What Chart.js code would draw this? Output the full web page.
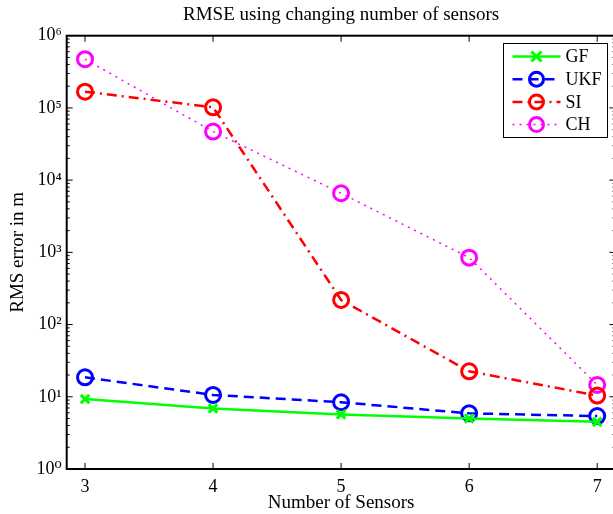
<!DOCTYPE html>
<html lang="en">
<head>
  <meta charset="UTF-8" />
  <title>RMSE using changing number of sensors</title>
  <script src="https://cdn.jsdelivr.net/npm/chart.js"></script>
  <style>
    html, body {
      margin: 0;
      padding: 0;
      background: #fff;
      overflow: hidden;
    }
    canvas {
      display: block;
    }
  </style>
</head>
<body>
  <canvas id="rmse" width="626" height="514"></canvas>

  <script>
    // x values (number of sensors) and the RMS error of each method
    const sensors = [3, 4, 5, 6, 7];
    const gf  = [9.3, 6.9, 5.7, 5.0, 4.5];
    const ukf = [18.6, 10.6, 8.4, 5.9, 5.4];
    const si  = [168000, 102000, 219, 22.5, 10.4];
    const ch  = [473000, 47000, 6580, 845, 14.6];
    const yTicks = [1, 10, 100, 1000, 10000, 100000, 1000000];

    const sup = ['\u2070', '\u00b9', '\u00b2', '\u00b3', '\u2074', '\u2075', '\u2076'];
    const serif = "'Liberation Serif', 'DejaVu Serif', serif";

    const pts = arr => arr.map((v, i) => ({x: sensors[i], y: v}));

    // matlab style box with inward ticks + legend
    const matlabAxes = {
      id: 'matlabAxes',
      afterDraw(chart) {
        const {ctx, chartArea: a, scales: {x, y}} = chart;
        ctx.save();
        ctx.strokeStyle = '#000';
        ctx.lineWidth = 1;
        ctx.beginPath();
        yTicks.forEach(v => {
          const py = y.getPixelForValue(v);
          ctx.moveTo(a.left, py); ctx.lineTo(a.left + 6, py);
          ctx.moveTo(a.right, py); ctx.lineTo(a.right - 6, py);
          if (v < 1000000) {
            for (let k = 2; k < 10; k++) {
              const my = y.getPixelForValue(v * k);
              ctx.moveTo(a.left, my); ctx.lineTo(a.left + 3, my);
              ctx.moveTo(a.right, my); ctx.lineTo(a.right - 3, my);
            }
          }
        });
        sensors.forEach(v => {
          const px = x.getPixelForValue(v);
          ctx.moveTo(px, a.bottom); ctx.lineTo(px, a.bottom - 6);
          ctx.moveTo(px, a.top); ctx.lineTo(px, a.top + 6);
        });
        ctx.stroke();

        ctx.lineWidth = 2;
        ctx.strokeRect(a.left, a.top, a.right - a.left, a.bottom - a.top);

        // legend
        const bx = 503.5, by = 43.5, bw = 104, bh = 94;
        ctx.fillStyle = '#fff';
        ctx.fillRect(bx, by, bw, bh);
        ctx.lineWidth = 1;
        ctx.strokeRect(bx, by, bw, bh);
        ctx.font = '18px ' + serif;
        ctx.textBaseline = 'middle';
        chart.data.datasets.forEach((ds, i) => {
          const ry = by + 13 + i * 22.7;
          ctx.strokeStyle = ds.borderColor;
          ctx.lineWidth = ds.borderWidth;
          ctx.setLineDash(ds.borderDash || []);
          ctx.beginPath();
          ctx.moveTo(bx + 9, ry); ctx.lineTo(bx + 57, ry);
          ctx.stroke();
          ctx.setLineDash([]);
          ctx.lineWidth = ds.pointBorderWidth;
          ctx.beginPath();
          if (ds.pointStyle === 'crossRot') {
            const r = 5;
            ctx.moveTo(bx + 33 - r, ry - r); ctx.lineTo(bx + 33 + r, ry + r);
            ctx.moveTo(bx + 33 - r, ry + r); ctx.lineTo(bx + 33 + r, ry - r);
          } else {
            ctx.arc(bx + 33, ry, 7, 0, Math.PI * 2);
          }
          ctx.stroke();
          ctx.fillStyle = '#000';
          ctx.fillText(ds.label, bx + 62, ry + 1);
        });
        ctx.restore();
      }
    };

    const common = {
      fill: false,
      tension: 0,
      backgroundColor: 'rgba(0,0,0,0)',
      pointBackgroundColor: 'rgba(0,0,0,0)',
      pointBorderWidth: 3,
      pointRadius: 7.5,
      clip: false
    };

    new Chart(document.getElementById('rmse'), {
      type: 'line',
      data: {
        datasets: [
          {...common, label: 'GF', data: pts(gf), borderColor: '#00ff00', pointBorderColor: '#00ff00',
            borderWidth: 2.5, pointStyle: 'crossRot', pointRadius: 6},
          {...common, label: 'UKF', data: pts(ukf), borderColor: '#0000ff', pointBorderColor: '#0000ff',
            borderWidth: 2.5, borderDash: [10, 6], pointStyle: 'circle'},
          {...common, label: 'SI', data: pts(si), borderColor: '#ff0000', pointBorderColor: '#ff0000',
            borderWidth: 2.5, borderDash: [10, 5, 2, 5], pointStyle: 'circle'},
          {...common, label: 'CH', data: pts(ch), borderColor: '#ff00ff', pointBorderColor: '#ff00ff',
            borderWidth: 1.5, borderDash: [2, 5], pointStyle: 'circle'}
        ]
      },
      options: {
        responsive: false,
        animation: false,
        devicePixelRatio: 1,
        layout: { padding: { left: 0, right: 2.7, top: 0, bottom: 0 } },
        plugins: {
          legend: { display: false },
          tooltip: { enabled: false },
          title: {
            display: true,
            fullSize: false,
            text: 'RMSE using changing number of sensors',
            color: '#000',
            font: { family: serif, size: 19, weight: 'normal' },
            padding: { top: 3.6, bottom: 9.3 }
          }
        },
        scales: {
          x: {
            type: 'linear',
            min: 2.857,
            max: 7.143,
            afterFit: s => { s.height = 45; s.paddingLeft = 0; s.paddingRight = 0; },
            afterBuildTicks: s => { s.ticks = sensors.map(v => ({value: v})); },
            grid: { display: false, drawTicks: false },
            border: { display: false },
            ticks: {
              color: '#000',
              padding: 7,
              font: { family: serif, size: 18 },
              callback: v => String(v)
            },
            title: {
              display: true,
              text: 'Number of Sensors',
              color: '#000',
              font: { family: serif, size: 19 },
              padding: { top: 0, bottom: 0 }
            }
          },
          y: {
            type: 'logarithmic',
            min: 1,
            max: 1000000,
            afterFit: s => { s.width = 66.7; s.paddingTop = 0; s.paddingBottom = 0; },
            afterBuildTicks: s => { s.ticks = yTicks.map(v => ({value: v})); },
            grid: { display: false, drawTicks: false },
            border: { display: false },
            ticks: {
              color: '#000',
              padding: 5,
              font: { family: serif, size: 18 },
              callback: v => '10' + sup[Math.round(Math.log10(v))]
            },
            title: {
              display: true,
              text: 'RMS error in m',
              color: '#000',
              font: { family: serif, size: 19 },
              padding: { top: 6.6, bottom: 0 }
            }
          }
        }
      },
      plugins: [matlabAxes]
    });
  </script>
</body>
</html>
